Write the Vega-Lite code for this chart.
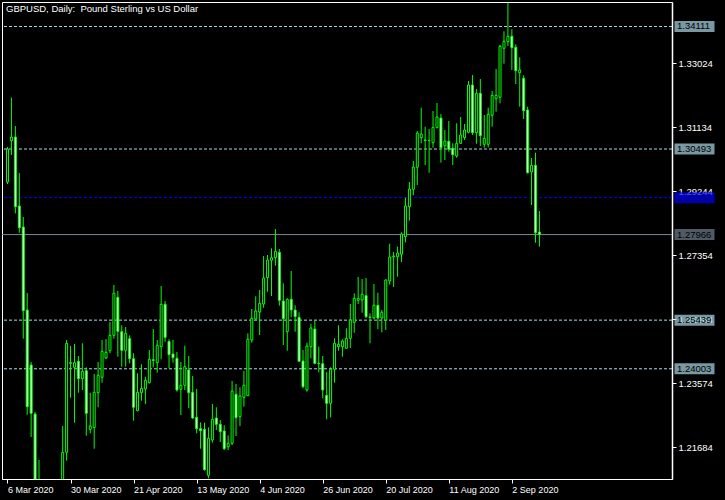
{
"$schema": "https://vega.github.io/schema/vega-lite/v6.json",
"autosize": {"type": "none"},
"width": 670,
"height": 477,
"padding": {"left": 2, "top": 2, "right": 53, "bottom": 21},
"background": "#000000",
"config": {"view": {"stroke": "#ffffff", "strokeWidth": 1, "fill": "#000000"}, "font": "Liberation Sans", "title": {"baseline": "top", "offset": -8, "dy": 3}},
"title": {"text": "GBPUSD, Daily:\u00a0 Pound Sterling vs US Dollar", "anchor": "start", "orient": "top", "frame": "group", "color": "#ffffff", "font": "Liberation Sans", "fontSize": 9.5, "fontWeight": "normal", "dx": 4},
"datasets": {
"levels": [
{"level": 1.34111, "kind": "line"},
{"level": 1.30493, "kind": "line"},
{"level": 1.25439, "kind": "line"},
{"level": 1.24003, "kind": "line"},
{"level": 1.29057, "kind": "alert"},
{"level": 1.27966, "kind": "bid"}
],
"bars": [
{"i":0,"d":"2020-03-06","o":1.29518,"h":1.30552,"l":1.29459,"c":1.30493},
{"i":1,"d":"2020-03-09","o":1.30738,"h":1.32008,"l":1.30316,"c":1.30847},
{"i":2,"d":"2020-03-10","o":1.30847,"h":1.31172,"l":1.28594,"c":1.28789},
{"i":3,"d":"2020-03-11","o":1.28810,"h":1.29784,"l":1.28021,"c":1.28169},
{"i":4,"d":"2020-03-12","o":1.28190,"h":1.28485,"l":1.24891,"c":1.25718},
{"i":5,"d":"2020-03-13","o":1.25738,"h":1.26240,"l":1.22646,"c":1.22883},
{"i":6,"d":"2020-03-16","o":1.24114,"h":1.24203,"l":1.21988,"c":1.22688},
{"i":7,"d":"2020-03-17","o":1.22667,"h":1.22726,"l":1.2030,"c":1.2056},
{"i":8,"d":"2020-03-18","o":1.2056,"h":1.21309,"l":1.1760,"c":1.1780},
{"i":9,"d":"2020-03-19","o":1.1770,"h":1.1800,"l":1.1451,"c":1.1640},
{"i":10,"d":"2020-03-20","o":1.1640,"h":1.1800,"l":1.1409,"c":1.1630},
{"i":11,"d":"2020-03-23","o":1.1630,"h":1.1730,"l":1.1450,"c":1.1520},
{"i":12,"d":"2020-03-24","o":1.1520,"h":1.1780,"l":1.1500,"c":1.1740},
{"i":13,"d":"2020-03-25","o":1.1740,"h":1.1930,"l":1.1700,"c":1.1890},
{"i":14,"d":"2020-03-26","o":1.1890,"h":1.22313,"l":1.1860,"c":1.21536},
{"i":15,"d":"2020-03-27","o":1.21536,"h":1.24853,"l":1.21288,"c":1.24755},
{"i":16,"d":"2020-03-30","o":1.24180,"h":1.24675,"l":1.23149,"c":1.24165},
{"i":17,"d":"2020-03-31","o":1.24046,"h":1.24734,"l":1.22410,"c":1.24182},
{"i":18,"d":"2020-04-01","o":1.24224,"h":1.24380,"l":1.23296,"c":1.23710},
{"i":19,"d":"2020-04-02","o":1.23710,"h":1.24755,"l":1.23376,"c":1.23928},
{"i":20,"d":"2020-04-03","o":1.23946,"h":1.24046,"l":1.22026,"c":1.22688},
{"i":21,"d":"2020-04-06","o":1.22215,"h":1.23296,"l":1.22097,"c":1.22313},
{"i":22,"d":"2020-04-07","o":1.22263,"h":1.23848,"l":1.21642,"c":1.23308},
{"i":23,"d":"2020-04-08","o":1.23296,"h":1.24203,"l":1.22865,"c":1.23810},
{"i":24,"d":"2020-04-09","o":1.23751,"h":1.24853,"l":1.23592,"c":1.24519},
{"i":25,"d":"2020-04-10","o":1.24321,"h":1.24882,"l":1.24291,"c":1.24489},
{"i":26,"d":"2020-04-13","o":1.24537,"h":1.25384,"l":1.24460,"c":1.24991},
{"i":27,"d":"2020-04-14","o":1.24991,"h":1.26477,"l":1.24891,"c":1.26232},
{"i":28,"d":"2020-04-15","o":1.26113,"h":1.26300,"l":1.24359,"c":1.25109},
{"i":29,"d":"2020-04-16","o":1.25098,"h":1.25287,"l":1.24064,"c":1.24548},
{"i":30,"d":"2020-04-17","o":1.24548,"h":1.25236,"l":1.24064,"c":1.25050},
{"i":31,"d":"2020-04-20","o":1.24891,"h":1.24991,"l":1.24164,"c":1.24300},
{"i":32,"d":"2020-04-21","o":1.24300,"h":1.24460,"l":1.22469,"c":1.22865},
{"i":33,"d":"2020-04-22","o":1.22765,"h":1.23869,"l":1.22747,"c":1.23308},
{"i":34,"d":"2020-04-23","o":1.23296,"h":1.24135,"l":1.23060,"c":1.23426},
{"i":35,"d":"2020-04-24","o":1.23405,"h":1.23769,"l":1.22963,"c":1.23662},
{"i":36,"d":"2020-04-27","o":1.23592,"h":1.24557,"l":1.23568,"c":1.24283},
{"i":37,"d":"2020-04-28","o":1.24270,"h":1.25177,"l":1.24046,"c":1.24250},
{"i":38,"d":"2020-04-29","o":1.24182,"h":1.24853,"l":1.23887,"c":1.24696},
{"i":39,"d":"2020-04-30","o":1.24655,"h":1.26447,"l":1.24283,"c":1.25907},
{"i":40,"d":"2020-05-01","o":1.25907,"h":1.26004,"l":1.24802,"c":1.24932},
{"i":41,"d":"2020-05-04","o":1.24814,"h":1.24873,"l":1.24017,"c":1.24418},
{"i":42,"d":"2020-05-05","o":1.24439,"h":1.24853,"l":1.24182,"c":1.24330},
{"i":43,"d":"2020-05-06","o":1.24312,"h":1.24498,"l":1.23326,"c":1.23376},
{"i":44,"d":"2020-05-07","o":1.23397,"h":1.24203,"l":1.22638,"c":1.23515},
{"i":45,"d":"2020-05-08","o":1.23515,"h":1.24684,"l":1.23376,"c":1.24064},
{"i":46,"d":"2020-05-11","o":1.23967,"h":1.24380,"l":1.22836,"c":1.23296},
{"i":47,"d":"2020-05-12","o":1.23308,"h":1.23789,"l":1.22520,"c":1.22549},
{"i":48,"d":"2020-05-13","o":1.22570,"h":1.23405,"l":1.22097,"c":1.22233},
{"i":49,"d":"2020-05-14","o":1.22233,"h":1.22422,"l":1.21642,"c":1.22174},
{"i":50,"d":"2020-05-15","o":1.22215,"h":1.22410,"l":1.20993,"c":1.21022},
{"i":51,"d":"2020-05-18","o":1.20857,"h":1.22274,"l":1.20768,"c":1.21950},
{"i":52,"d":"2020-05-19","o":1.21899,"h":1.22963,"l":1.21820,"c":1.22511},
{"i":53,"d":"2020-05-20","o":1.22549,"h":1.22865,"l":1.22195,"c":1.22363},
{"i":54,"d":"2020-05-21","o":1.22363,"h":1.22490,"l":1.21840,"c":1.22145},
{"i":55,"d":"2020-05-22","o":1.22165,"h":1.22334,"l":1.21604,"c":1.21642},
{"i":56,"d":"2020-05-25","o":1.21702,"h":1.22038,"l":1.21604,"c":1.21802},
{"i":57,"d":"2020-05-26","o":1.21802,"h":1.23642,"l":1.21752,"c":1.23346},
{"i":58,"d":"2020-05-27","o":1.23249,"h":1.23553,"l":1.22018,"c":1.22558},
{"i":59,"d":"2020-05-28","o":1.22587,"h":1.23456,"l":1.22313,"c":1.23199},
{"i":60,"d":"2020-05-29","o":1.23160,"h":1.23937,"l":1.22883,"c":1.23515},
{"i":61,"d":"2020-06-01","o":1.23208,"h":1.25050,"l":1.23199,"c":1.24873},
{"i":62,"d":"2020-06-02","o":1.24853,"h":1.25768,"l":1.24773,"c":1.25493},
{"i":63,"d":"2020-06-03","o":1.25473,"h":1.26143,"l":1.25443,"c":1.25709},
{"i":64,"d":"2020-06-04","o":1.25679,"h":1.26329,"l":1.25000,"c":1.25936},
{"i":65,"d":"2020-06-05","o":1.25916,"h":1.27333,"l":1.25806,"c":1.26683},
{"i":66,"d":"2020-06-08","o":1.26692,"h":1.27363,"l":1.26279,"c":1.27215},
{"i":67,"d":"2020-06-09","o":1.27206,"h":1.27560,"l":1.26152,"c":1.27283},
{"i":68,"d":"2020-06-10","o":1.27283,"h":1.28130,"l":1.27047,"c":1.27472},
{"i":69,"d":"2020-06-11","o":1.27442,"h":1.27540,"l":1.25865,"c":1.26025},
{"i":70,"d":"2020-06-12","o":1.26004,"h":1.26527,"l":1.24705,"c":1.25482},
{"i":71,"d":"2020-06-15","o":1.25098,"h":1.26084,"l":1.24537,"c":1.26054},
{"i":72,"d":"2020-06-16","o":1.26054,"h":1.26890,"l":1.25523,"c":1.25738},
{"i":73,"d":"2020-06-17","o":1.25738,"h":1.25877,"l":1.25098,"c":1.25541},
{"i":74,"d":"2020-06-18","o":1.25523,"h":1.25671,"l":1.24212,"c":1.24224},
{"i":75,"d":"2020-06-19","o":1.24232,"h":1.24557,"l":1.23426,"c":1.23473},
{"i":76,"d":"2020-06-22","o":1.23376,"h":1.24773,"l":1.23326,"c":1.24675},
{"i":77,"d":"2020-06-23","o":1.24655,"h":1.25325,"l":1.24312,"c":1.25207},
{"i":78,"d":"2020-06-24","o":1.25177,"h":1.25422,"l":1.24135,"c":1.24164},
{"i":79,"d":"2020-06-25","o":1.24164,"h":1.24655,"l":1.23899,"c":1.24150},
{"i":80,"d":"2020-06-26","o":1.24150,"h":1.24380,"l":1.23131,"c":1.23376},
{"i":81,"d":"2020-06-29","o":1.23219,"h":1.23908,"l":1.22511,"c":1.22983},
{"i":82,"d":"2020-06-30","o":1.22983,"h":1.24046,"l":1.22570,"c":1.23987},
{"i":83,"d":"2020-07-01","o":1.23987,"h":1.24903,"l":1.23592,"c":1.24755},
{"i":84,"d":"2020-07-02","o":1.24655,"h":1.25287,"l":1.24537,"c":1.24726},
{"i":85,"d":"2020-07-03","o":1.24655,"h":1.24873,"l":1.24359,"c":1.24823},
{"i":86,"d":"2020-07-06","o":1.24607,"h":1.25198,"l":1.24596,"c":1.24903},
{"i":87,"d":"2020-07-07","o":1.24903,"h":1.25916,"l":1.24616,"c":1.25443},
{"i":88,"d":"2020-07-08","o":1.25375,"h":1.26232,"l":1.25068,"c":1.26084},
{"i":89,"d":"2020-07-09","o":1.26025,"h":1.26713,"l":1.25916,"c":1.26084},
{"i":90,"d":"2020-07-10","o":1.26034,"h":1.26654,"l":1.25659,"c":1.26202},
{"i":91,"d":"2020-07-13","o":1.26161,"h":1.26683,"l":1.25502,"c":1.25541},
{"i":92,"d":"2020-07-14","o":1.25530,"h":1.25641,"l":1.24755,"c":1.25515},
{"i":93,"d":"2020-07-15","o":1.25502,"h":1.26506,"l":1.25464,"c":1.25877},
{"i":94,"d":"2020-07-16","o":1.25877,"h":1.26249,"l":1.25168,"c":1.25502},
{"i":95,"d":"2020-07-17","o":1.25502,"h":1.25738,"l":1.25080,"c":1.25671},
{"i":96,"d":"2020-07-20","o":1.25443,"h":1.26645,"l":1.25148,"c":1.26624},
{"i":97,"d":"2020-07-21","o":1.26595,"h":1.27696,"l":1.26486,"c":1.27304},
{"i":98,"d":"2020-07-22","o":1.27304,"h":1.27451,"l":1.26418,"c":1.27330},
{"i":99,"d":"2020-07-23","o":1.27312,"h":1.27608,"l":1.26722,"c":1.27422},
{"i":100,"d":"2020-07-24","o":1.27383,"h":1.28033,"l":1.27156,"c":1.27983},
{"i":101,"d":"2020-07-27","o":1.27903,"h":1.29055,"l":1.27738,"c":1.28810},
{"i":102,"d":"2020-07-28","o":1.28789,"h":1.29518,"l":1.28376,"c":1.29312},
{"i":103,"d":"2020-07-29","o":1.29303,"h":1.30139,"l":1.29126,"c":1.29961},
{"i":104,"d":"2020-07-30","o":1.29953,"h":1.31024,"l":1.29430,"c":1.30965},
{"i":105,"d":"2020-07-31","o":1.30827,"h":1.31713,"l":1.30661,"c":1.30936},
{"i":106,"d":"2020-08-03","o":1.30760,"h":1.31151,"l":1.30020,"c":1.30745},
{"i":107,"d":"2020-08-04","o":1.30745,"h":1.31084,"l":1.29793,"c":1.30740},
{"i":108,"d":"2020-08-05","o":1.30679,"h":1.31615,"l":1.30531,"c":1.31134},
{"i":109,"d":"2020-08-06","o":1.31122,"h":1.31851,"l":1.31104,"c":1.31438},
{"i":110,"d":"2020-08-07","o":1.31408,"h":1.31527,"l":1.30088,"c":1.30531},
{"i":111,"d":"2020-08-10","o":1.30590,"h":1.31054,"l":1.30168,"c":1.30729},
{"i":112,"d":"2020-08-11","o":1.30720,"h":1.31320,"l":1.30413,"c":1.30484},
{"i":113,"d":"2020-08-12","o":1.30514,"h":1.30661,"l":1.30020,"c":1.30325},
{"i":114,"d":"2020-08-13","o":1.30286,"h":1.31252,"l":1.30236,"c":1.30661},
{"i":115,"d":"2020-08-14","o":1.30661,"h":1.31438,"l":1.30640,"c":1.30906},
{"i":116,"d":"2020-08-17","o":1.30827,"h":1.31231,"l":1.30759,"c":1.31054},
{"i":117,"d":"2020-08-18","o":1.30986,"h":1.32501,"l":1.30957,"c":1.32383},
{"i":118,"d":"2020-08-19","o":1.32383,"h":1.32678,"l":1.30906,"c":1.30974},
{"i":119,"d":"2020-08-20","o":1.30974,"h":1.32265,"l":1.30649,"c":1.32138},
{"i":120,"d":"2020-08-21","o":1.32138,"h":1.32560,"l":1.30582,"c":1.30886},
{"i":121,"d":"2020-08-24","o":1.30632,"h":1.31497,"l":1.30531,"c":1.30809},
{"i":122,"d":"2020-08-25","o":1.30632,"h":1.31713,"l":1.30543,"c":1.31518},
{"i":123,"d":"2020-08-26","o":1.31488,"h":1.32206,"l":1.31151,"c":1.32079},
{"i":124,"d":"2020-08-27","o":1.31978,"h":1.32855,"l":1.31594,"c":1.32079},
{"i":125,"d":"2020-08-28","o":1.32020,"h":1.33564,"l":1.31842,"c":1.33526},
{"i":126,"d":"2020-08-31","o":1.33467,"h":1.33969,"l":1.33012,"c":1.33673},
{"i":127,"d":"2020-09-01","o":1.33662,"h":1.34813,"l":1.33535,"c":1.33821},
{"i":128,"d":"2020-09-02","o":1.33821,"h":1.34028,"l":1.32826,"c":1.33484},
{"i":129,"d":"2020-09-03","o":1.33496,"h":1.33585,"l":1.32412,"c":1.32805},
{"i":130,"d":"2020-09-04","o":1.32746,"h":1.33201,"l":1.31742,"c":1.32826},
{"i":131,"d":"2020-09-07","o":1.32581,"h":1.32669,"l":1.31379,"c":1.31624},
{"i":132,"d":"2020-09-08","o":1.31645,"h":1.31742,"l":1.29769,"c":1.29793},
{"i":133,"d":"2020-09-09","o":1.29814,"h":1.30227,"l":1.28839,"c":1.30012},
{"i":134,"d":"2020-09-10","o":1.30012,"h":1.30384,"l":1.27726,"c":1.28021},
{"i":135,"d":"2020-09-11","o":1.28040,"h":1.28662,"l":1.27608,"c":1.27966}
]
},
"layer": [
{
"data": {"name": "levels"},
"transform": [{"filter": "datum.kind == 'line'"}],
"mark": {"type": "rule", "color": "#add8e6", "strokeWidth": 1, "strokeDash": [3, 2]},
"encoding": {
"y": {"field": "level", "type": "quantitative", "title": null, "scale": {"domain": [1.20748, 1.34834], "nice": false, "zero": false},
"axis": {"orient": "right", "values": [1.21684, 1.22629, 1.23574, 1.24519, 1.25464, 1.26409, 1.27354, 1.28299, 1.29244, 1.30189, 1.31134, 1.32079, 1.33024, 1.33969], "format": ".5f", "labelColor": "#ffffff", "labelFont": "Liberation Sans", "labelFontSize": 9.5, "labelPadding": 2, "labelOverlap": false, "labelFlush": false, "labelBound": false, "tickColor": "#ffffff", "tickSize": 4, "domainColor": "#ffffff", "domainWidth": 1.5, "grid": false}}
}
},
{
"data": {"name": "levels"},
"transform": [{"filter": "datum.kind == 'alert'"}],
"mark": {"type": "rule", "color": "#0000ff", "strokeWidth": 1, "strokeDash": [3, 2]},
"encoding": {"y": {"field": "level", "type": "quantitative", "title": null, "scale": {"domain": [1.20748, 1.34834], "nice": false, "zero": false}}}
},
{
"data": {"name": "levels"},
"transform": [{"filter": "datum.kind == 'bid'"}],
"mark": {"type": "rule", "color": "#778899", "strokeWidth": 1},
"encoding": {"y": {"field": "level", "type": "quantitative", "title": null, "scale": {"domain": [1.20748, 1.34834], "nice": false, "zero": false}}}
},
{
"data": {"name": "bars"},
"mark": {"type": "rule", "color": "#00ff00", "strokeWidth": 1, "clip": true},
"encoding": {
"x": {"field": "i", "type": "quantitative", "title": null, "scale": {"domain": [-0.125, 167.375], "nice": false, "zero": false},
"axis": {"values": [0, 16, 32, 48, 64, 80, 96, 112, 128], "labelExpr": "['6 Mar 2020','30 Mar 2020','21 Apr 2020','13 May 2020','4 Jun 2020','26 Jun 2020','20 Jul 2020','11 Aug 2020','2 Sep 2020'][datum.value/16]", "labelAlign": "left", "labelBaseline": "top", "labelColor": "#ffffff", "labelFont": "Liberation Sans", "labelFontSize": 9, "labelPadding": 2, "labelFlush": false, "labelOverlap": false, "labelBound": false, "tickColor": "#ffffff", "tickSize": 4, "domainColor": "#ffffff", "grid": false}},
"y": {"field": "l", "type": "quantitative", "title": null, "scale": {"domain": [1.20748, 1.34834], "nice": false, "zero": false}},
"y2": {"field": "h"}
}
},
{
"data": {"name": "bars"},
"mark": {"type": "bar", "width": 2, "stroke": "#00ff00", "strokeWidth": 1, "clip": true},
"encoding": {
"x": {"field": "i", "type": "quantitative", "title": null, "scale": {"domain": [-0.125, 167.375], "nice": false, "zero": false}},
"y": {"field": "o", "type": "quantitative", "title": null, "scale": {"domain": [1.20748, 1.34834], "nice": false, "zero": false}},
"y2": {"field": "c"},
"fill": {"condition": {"test": "datum.c < datum.o", "value": "#ffffff"}, "value": "#000000"}
}
},
{
"data": {"name": "levels"},
"mark": {"type": "tick", "orient": "horizontal", "size": 40, "thickness": 11, "xOffset": 22.5},
"encoding": {
"x": {"value": "width"},
"y": {"field": "level", "type": "quantitative", "title": null, "scale": {"domain": [1.20748, 1.34834], "nice": false, "zero": false}},
"color": {"condition": [{"test": "datum.kind == 'alert'", "value": "#0000ff"}, {"test": "datum.kind == 'bid'", "value": "#708090"}], "value": "#add8e6"}
}
},
{
"data": {"name": "levels"},
"mark": {"type": "text", "align": "left", "baseline": "middle", "dx": 5, "font": "Liberation Sans", "fontSize": 9.5},
"encoding": {
"x": {"value": "width"},
"y": {"field": "level", "type": "quantitative", "title": null, "scale": {"domain": [1.20748, 1.34834], "nice": false, "zero": false}},
"text": {"field": "level", "type": "quantitative", "format": ".5f"},
"color": {"condition": {"test": "datum.kind == 'alert'", "value": "#00008b"}, "value": "#000000"}
}
}
]
}
